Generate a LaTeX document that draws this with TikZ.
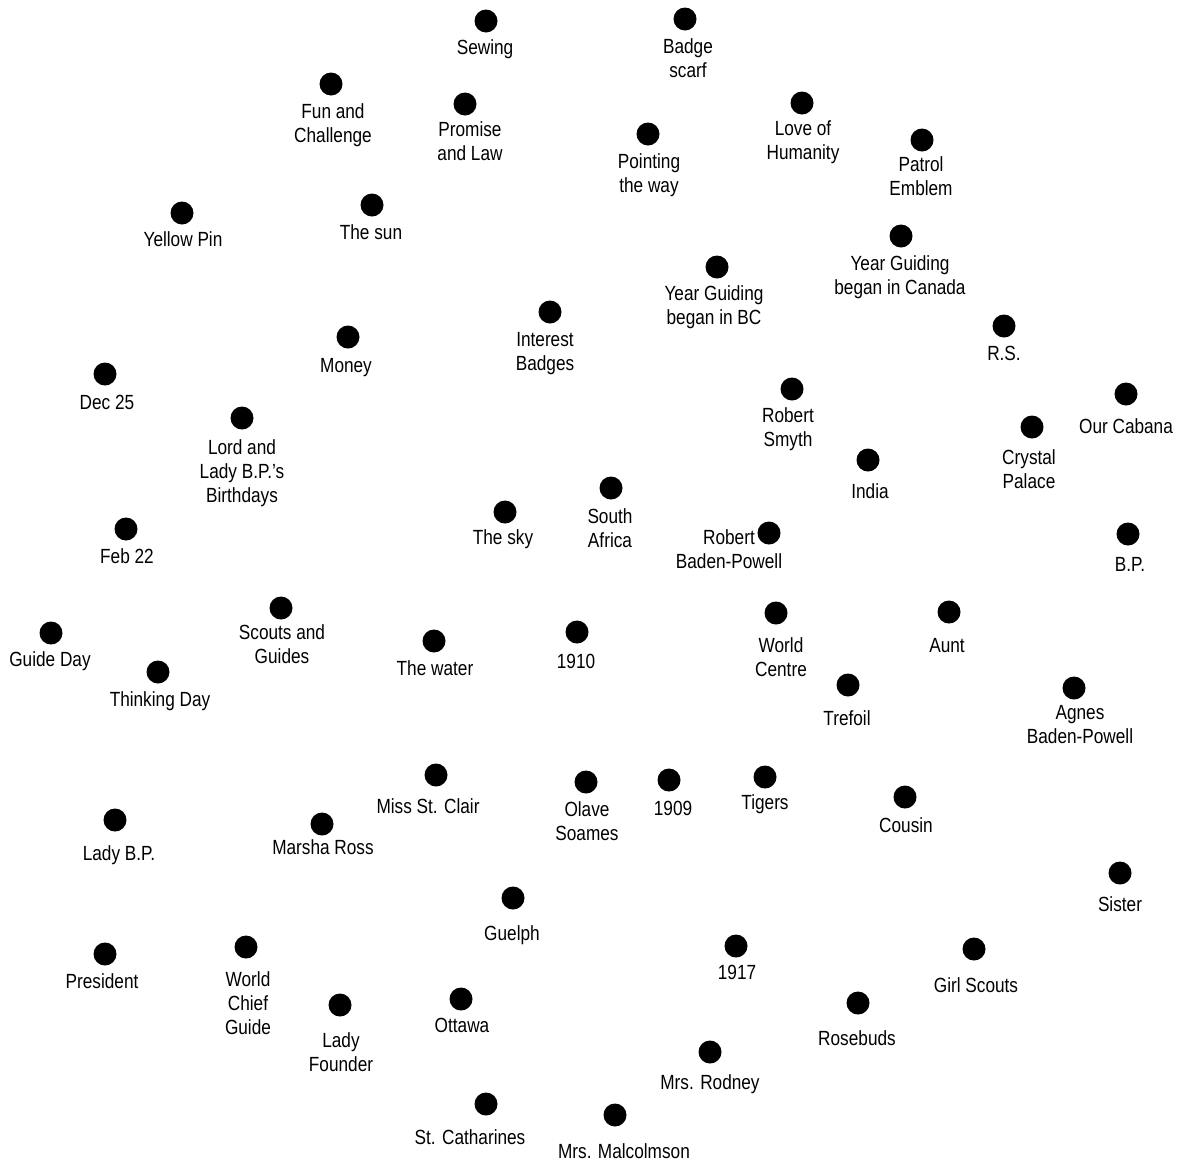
\documentclass[tikz,border=0pt]{standalone}
\usepackage{fontspec}
\setmainfont{Liberation Sans}[FakeStretch=0.84]
\newcommand\mlab[1]{\vtop{\baselineskip=24pt\halign{\hfil##\hfil\cr#1\crcr}}}
\begin{document}
\begin{tikzpicture}[x=1pt,y=-1pt,
  dot/.style={circle,fill=black,draw=none,minimum size=23pt,inner sep=0pt},
  lab/.style={anchor=base,inner sep=0pt,font=\fontsize{20.5pt}{24pt}\selectfont}]
\useasboundingbox (0,0) rectangle (1178,1160);
\fill[white] (0,0) rectangle (1178,1160);
% dots
\node[dot] (d1) at (486,21) {};
\node[dot] (d2) at (685,19) {};
\node[dot] (d3) at (331,84) {};
\node[dot] (d4) at (465,104) {};
\node[dot] (d5) at (802,103) {};
\node[dot] (d6) at (648,134) {};
\node[dot] (d7) at (922,140) {};
\node[dot] (d8) at (182,213) {};
\node[dot] (d9) at (372,205) {};
\node[dot] (d10) at (901,236) {};
\node[dot] (d11) at (717,267) {};
\node[dot] (d12) at (1004,326) {};
\node[dot] (d13) at (550,312) {};
\node[dot] (d14) at (348,337) {};
\node[dot] (d15) at (105,374) {};
\node[dot] (d16) at (1126,394) {};
\node[dot] (d17) at (792,389) {};
\node[dot] (d18) at (242,418) {};
\node[dot] (d19) at (1032,427) {};
\node[dot] (d20) at (868,460) {};
\node[dot] (d21) at (611,488) {};
\node[dot] (d22) at (505,512) {};
\node[dot] (d23) at (769,533) {};
\node[dot] (d24) at (126,529) {};
\node[dot] (d25) at (1128,534) {};
\node[dot] (d26) at (281,608) {};
\node[dot] (d27) at (51,633) {};
\node[dot] (d28) at (434,641) {};
\node[dot] (d29) at (577,632) {};
\node[dot] (d30) at (776,613) {};
\node[dot] (d31) at (949,612) {};
\node[dot] (d32) at (158,672) {};
\node[dot] (d33) at (848,685) {};
\node[dot] (d34) at (1074,688) {};
\node[dot] (d35) at (436,775) {};
\node[dot] (d36) at (586,782) {};
\node[dot] (d37) at (669,780) {};
\node[dot] (d38) at (765,777) {};
\node[dot] (d39) at (905,797) {};
\node[dot] (d40) at (115,820) {};
\node[dot] (d41) at (322,824) {};
\node[dot] (d42) at (1120,873) {};
\node[dot] (d43) at (513,898) {};
\node[dot] (d44) at (105,954) {};
\node[dot] (d45) at (246,947) {};
\node[dot] (d46) at (736,946) {};
\node[dot] (d47) at (974,949) {};
\node[dot] (d48) at (340,1005) {};
\node[dot] (d49) at (461,999) {};
\node[dot] (d50) at (858,1003) {};
\node[dot] (d51) at (710,1052) {};
\node[dot] (d52) at (486,1104) {};
\node[dot] (d53) at (615,1115) {};
% labels
\node[lab] (l1) at (485,54) {\mlab{Sewing}};
\node[lab] (l2) at (688,53) {\mlab{Badge\cr scarf}};
\node[lab] (l3) at (333,118) {\mlab{Fun and\cr Challenge}};
\node[lab] (l4) at (470,136) {\mlab{Promise\cr and Law}};
\node[lab] (l5) at (803,135) {\mlab{Love of\cr Humanity}};
\node[lab] (l6) at (649,168) {\mlab{Pointing\cr the way}};
\node[lab] (l7) at (921,171) {\mlab{Patrol\cr Emblem}};
\node[lab] (l8) at (183,246) {\mlab{Yellow Pin}};
\node[lab] (l9) at (371,239) {\mlab{The sun}};
\node[lab] (l10) at (900,270) {\mlab{Year Guiding\cr began in Canada}};
\node[lab] (l11) at (714,300) {\mlab{Year Guiding\cr began in BC}};
\node[lab] (l12) at (1004,360) {\mlab{R.S.}};
\node[lab] (l13) at (545,346) {\mlab{Interest\cr Badges}};
\node[lab] (l14) at (346,372) {\mlab{Money}};
\node[lab] (l15) at (107,409) {\mlab{Dec 25}};
\node[lab] (l16) at (1126,433) {\mlab{Our Cabana}};
\node[lab] (l17) at (788,422) {\mlab{Robert\cr Smyth}};
\node[lab] (l18) at (242,454) {\mlab{Lord and\cr Lady B.P.'s\cr Birthdays}};
\node[lab] (l19) at (1029,464) {\mlab{Crystal\cr Palace}};
\node[lab] (l20) at (870,498) {\mlab{India}};
\node[lab] (l21) at (610,523) {\mlab{South\cr Africa}};
\node[lab] (l22) at (503,544) {\mlab{The sky}};
\node[lab] (l23) at (729,544) {\mlab{Robert\cr Baden-Powell}};
\node[lab] (l24) at (127,563) {\mlab{Feb 22}};
\node[lab] (l25) at (1130,571) {\mlab{B.P.}};
\node[lab] (l26) at (282,639) {\mlab{Scouts and\cr Guides}};
\node[lab] (l27) at (50,666) {\mlab{Guide Day}};
\node[lab] (l28) at (435,675) {\mlab{The water}};
\node[lab] (l29) at (576,668) {\mlab{1910}};
\node[lab] (l30) at (781,652) {\mlab{World\cr Centre}};
\node[lab] (l31) at (947,652) {\mlab{Aunt}};
\node[lab] (l32) at (160,706) {\mlab{Thinking Day}};
\node[lab] (l33) at (847,725) {\mlab{Trefoil}};
\node[lab] (l34) at (1080,719) {\mlab{Agnes\cr Baden-Powell}};
\node[lab] (l35) at (428,813) {\mlab{Miss St. Clair}};
\node[lab] (l36) at (587,816) {\mlab{Olave\cr Soames}};
\node[lab] (l37) at (673,815) {\mlab{1909}};
\node[lab] (l38) at (765,809) {\mlab{Tigers}};
\node[lab] (l39) at (906,832) {\mlab{Cousin}};
\node[lab] (l40) at (119,860) {\mlab{Lady B.P.}};
\node[lab] (l41) at (323,854) {\mlab{Marsha Ross}};
\node[lab] (l42) at (1120,911) {\mlab{Sister}};
\node[lab] (l43) at (512,940) {\mlab{Guelph}};
\node[lab] (l44) at (102,988) {\mlab{President}};
\node[lab] (l45) at (248,986) {\mlab{World\cr Chief\cr Guide}};
\node[lab] (l46) at (737,979) {\mlab{1917}};
\node[lab] (l47) at (976,992) {\mlab{Girl Scouts}};
\node[lab] (l48) at (341,1047) {\mlab{Lady\cr Founder}};
\node[lab] (l49) at (462,1032) {\mlab{Ottawa}};
\node[lab] (l50) at (857,1045) {\mlab{Rosebuds}};
\node[lab] (l51) at (710,1089) {\mlab{Mrs. Rodney}};
\node[lab] (l52) at (470,1144) {\mlab{St. Catharines}};
\node[lab] (l53) at (624,1158) {\mlab{Mrs. Malcolmson}};
\end{tikzpicture}
\end{document}
